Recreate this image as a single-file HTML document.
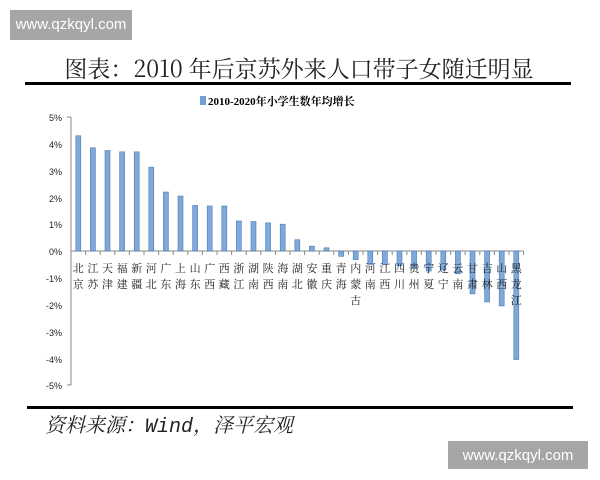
<!DOCTYPE html>
<html><head><meta charset="utf-8"><style>
body{margin:0;background:#fff;width:600px;height:480px;overflow:hidden;position:relative;font-family:"Liberation Sans","Noto Sans CJK SC",sans-serif}
.wm{position:absolute;background:#a6a6a6;color:#fff;font-size:15px;line-height:29px;text-align:center}
</style></head><body>
<div class="wm" style="left:10px;top:10px;width:122px;height:30px">www.qzkqyl.com</div>
<div class="wm" style="left:448px;top:441px;width:140px;height:28px">www.qzkqyl.com</div>
<svg width="600" height="480" style="position:absolute;left:0;top:0" xmlns="http://www.w3.org/2000/svg">
<text x="299" y="77" text-anchor="middle" font-family="'Noto Serif CJK SC',serif" font-size="23" fill="#222">图表：2010 年后京苏外来人口带子女随迁明显</text>
<rect x="25" y="82" width="546" height="3" fill="#000"/>
<rect x="200" y="96" width="6" height="9" fill="#6f9fd4"/>
<text x="208" y="105" font-family="'Liberation Serif','Noto Serif CJK SC',serif" font-weight="bold" font-size="11" fill="#000">2010-2020年小学生数年均增长</text>
<g font-size="9" fill="#222" text-anchor="end" font-family="'Liberation Sans',sans-serif">
<text x="62" y="121">5%</text><text x="62" y="148">4%</text><text x="62" y="175">3%</text><text x="62" y="202">2%</text><text x="62" y="228">1%</text><text x="62" y="255">0%</text><text x="62" y="282">-1%</text><text x="62" y="309">-2%</text><text x="62" y="336">-3%</text><text x="62" y="363">-4%</text><text x="62" y="389">-5%</text>
</g>
<path d="M71 117V385M67 117H71M67 385H71" stroke="#888" fill="none"/>
<line x1="71" y1="251" x2="524" y2="251" stroke="#888"/>
<g id="bars" fill="#7ea9da" stroke="#4a7db5" stroke-width="0.6"></g>
<g id="ticks" stroke="#888"></g>
<g id="labs" font-family="'Noto Serif CJK SC',serif" font-size="11" fill="#222" text-anchor="middle"></g>
<rect x="27" y="406" width="546" height="3" fill="#000"/>
<text x="45" y="432" font-family="'Liberation Mono','Noto Serif CJK SC',serif" font-style="italic" font-size="20" fill="#222">资料来源：Wind，泽平宏观</text>
</svg>
<script>
var d=[["北京",4.3],["江苏",3.85],["天津",3.75],["福建",3.7],["新疆",3.7],["河北",3.13],["广东",2.2],["上海",2.05],["山东",1.7],["广西",1.68],["西藏",1.68],["浙江",1.12],["湖南",1.1],["陕西",1.05],["海南",1.0],["湖北",0.42],["安徽",0.18],["重庆",0.12],["青海",-0.2],["内蒙古",-0.32],["河南",-0.5],["江西",-0.5],["四川",-0.55],["贵州",-0.65],["宁夏",-0.75],["辽宁",-0.7],["云南",-0.85],["甘肃",-1.6],["吉林",-1.9],["山西",-2.05],["黑龙江",-4.05]];
var ns="http://www.w3.org/2000/svg",b=document.getElementById("bars"),t=document.getElementById("ticks"),l=document.getElementById("labs");
function el(p,n,a){var e=document.createElementNS(ns,n);for(var k in a)e.setAttribute(k,a[k]);p.appendChild(e);return e}
for(var i=0;i<31;i++){var c=78.3+14.6*i,v=d[i][1],y=251-26.8*v;
el(b,"rect",{x:c-2.5,y:Math.min(y,251),width:5,height:Math.abs(251-y)});
el(t,"line",{x1:71+14.6*(i+1),y1:251,x2:71+14.6*(i+1),y2:255});
var s=d[i][0];for(var j=0;j<s.length;j++){var tx=el(l,"text",{x:c,y:272+j*16});tx.textContent=s[j];}}
</script>
</body></html>
